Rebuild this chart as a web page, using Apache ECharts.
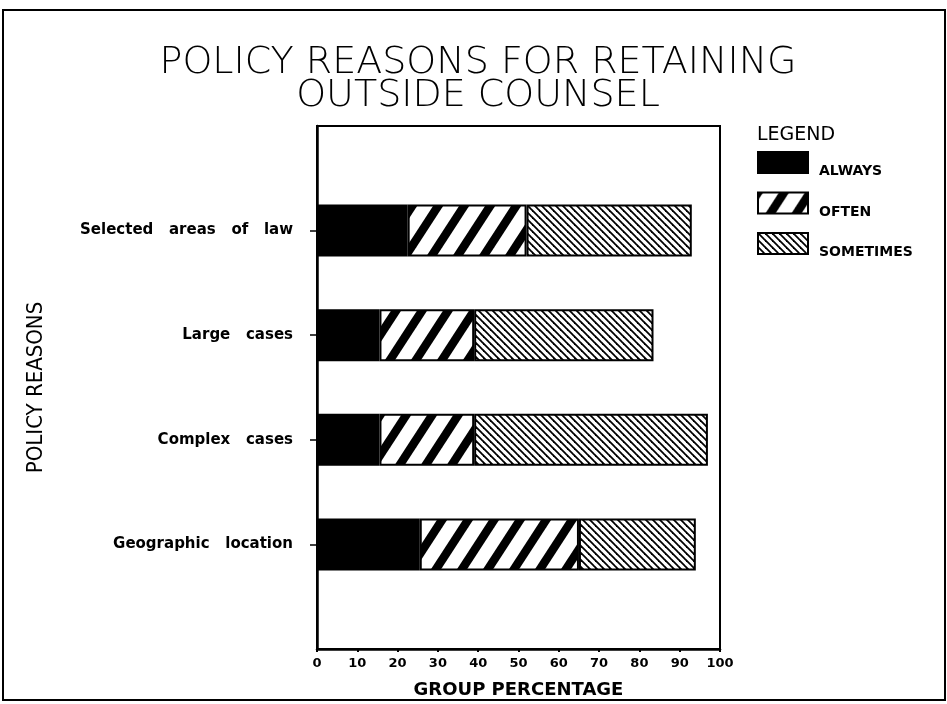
<!DOCTYPE html>
<html>
<head>
<meta charset="utf-8">
<title>Policy reasons for retaining outside counsel</title>
<script src="https://cdn.jsdelivr.net/npm/echarts@6/dist/echarts.min.js"></script>
<style>
  html, body { margin: 0; padding: 0; background: #fff; }
  #chart { width: 947px; height: 704px; }
</style>
</head>
<body>
<div id="chart"></div>
<script>
// categories, bottom to top (the category axis starts at the bottom)
const reasons = ['Geographic location', 'Complex cases', 'Large cases', 'Selected areas of law']
const seriesNames = ['ALWAYS', 'OFTEN', 'SOMETIMES']
// group percentage per segment, same order as reasons
const always = [25.5, 15.5, 15.5, 22.5]
const often = [39.5, 23.5, 23.5, 29.5]
const sometimes = [29, 58, 44.5, 41]
// x axis ticks
const xMin = 0
const xMax = 100
const xStep = 10

// one empty slot above and below so the bars sit like in the original plot
const cats = [''].concat(reasons, [''])
const pad = v => ['-'].concat(v, ['-'])

// hatch tiles for the bar fills
function stripes (w, h, lineWidth, rising) {
  const c = document.createElement('canvas')
  c.width = w
  c.height = h
  const ctx = c.getContext('2d')
  ctx.fillStyle = '#fff'
  ctx.fillRect(0, 0, w, h)
  ctx.strokeStyle = '#000'
  ctx.lineWidth = lineWidth
  for (let k = -w; k <= w; k += w) {
    ctx.beginPath()
    if (rising) {
      ctx.moveTo(k - w / 2, h * 1.5)
      ctx.lineTo(k + w * 1.5, -h / 2)
    } else {
      ctx.moveTo(k - w / 2, -h / 2)
      ctx.lineTo(k + w * 1.5, h * 1.5)
    }
    ctx.stroke()
  }
  return c
}

const fills = [
  '#000',
  { image: stripes(26, 40, 8.5, true), repeat: 'repeat' },
  { image: stripes(7, 7, 1.8, false), repeat: 'repeat' }
]
const values = [always, often, sometimes]

const font = "'DejaVu Sans', Verdana, sans-serif"

const chart = echarts.init(document.getElementById('chart'))
chart.setOption({
  backgroundColor: '#fff',
  animation: false,
  title: [
    {
      text: 'POLICY REASONS FOR RETAINING\nOUTSIDE COUNSEL',
      left: 473,
      top: 42,
      textAlign: 'center',
      textStyle: {
        fontFamily: font,
        fontWeight: 200,
        fontSize: 38,
        lineHeight: 33,
        color: '#000'
      }
    },
    {
      text: 'LEGEND',
      left: 752,
      top: 121,
      textStyle: { fontFamily: font, fontWeight: 'normal', fontSize: 19, color: '#000' }
    }
  ],
  legend: {
    orient: 'vertical',
    left: 752,
    top: 146,
    itemWidth: 50,
    itemHeight: 21,
    itemGap: 13,
    icon: 'rect',
    data: seriesNames,
    formatter: name => '{t|' + name + '}',
    textStyle: {
      fontFamily: font,
      fontWeight: 'bold',
      fontSize: 14,
      color: '#000',
      rich: {
        t: {
          fontFamily: font,
          fontWeight: 'bold',
          fontSize: 14,
          color: '#000',
          padding: [18, 0, 0, 6]
        }
      }
    },
    itemStyle: { borderColor: '#000', borderWidth: 2 }
  },
  grid: {
    left: 317,
    top: 126,
    right: 227,
    bottom: 55,
    show: true,
    borderColor: '#000',
    borderWidth: 2
  },
  xAxis: {
    type: 'value',
    min: xMin,
    max: xMax,
    interval: xStep,
    name: 'GROUP PERCENTAGE',
    nameLocation: 'middle',
    nameGap: 32,
    nameTextStyle: { fontFamily: font, fontWeight: 'bold', fontSize: 18, color: '#000' },
    axisLine: { show: true, lineStyle: { color: '#000', width: 2.5 } },
    axisTick: { show: true, length: 3, lineStyle: { color: '#000', width: 2 } },
    axisLabel: { margin: 8, fontFamily: font, fontWeight: 'bold', fontSize: 13, color: '#000' },
    splitLine: { show: false }
  },
  yAxis: {
    type: 'category',
    data: cats,
    boundaryGap: false,
    name: 'POLICY REASONS',
    nameLocation: 'middle',
    nameRotate: 90,
    nameGap: 270,
    nameTextStyle: {
      fontFamily: "'Liberation Sans Narrow', 'DejaVu Sans Condensed', sans-serif",
      fontSize: 22,
      color: '#000'
    },
    axisLine: { show: true, lineStyle: { color: '#000', width: 2.5 } },
    axisTick: {
      show: true,
      length: 7,
      interval: (i, v) => v !== '',
      lineStyle: { color: '#000', width: 1.5 }
    },
    axisLabel: {
      interval: 0,
      margin: 24,
      fontFamily: font,
      fontWeight: 'bold',
      fontSize: 15,
      color: '#000',
      // the original lettering leaves wide gaps between words
      formatter: v => v.split(' ').join('   ')
    },
    splitLine: { show: false }
  },
  graphic: [
    {
      type: 'rect',
      shape: { x: 3, y: 10, width: 942, height: 690 },
      style: { fill: 'none', stroke: '#000', lineWidth: 2 },
      silent: true
    }
  ],
  series: seriesNames.map((name, i) => ({
    name: name,
    type: 'bar',
    stack: 'total',
    barWidth: 52,
    itemStyle: { color: fills[i], borderColor: '#000', borderWidth: 2 },
    emphasis: { disabled: true },
    data: pad(values[i])
  }))
})
</script>
</body>
</html>
